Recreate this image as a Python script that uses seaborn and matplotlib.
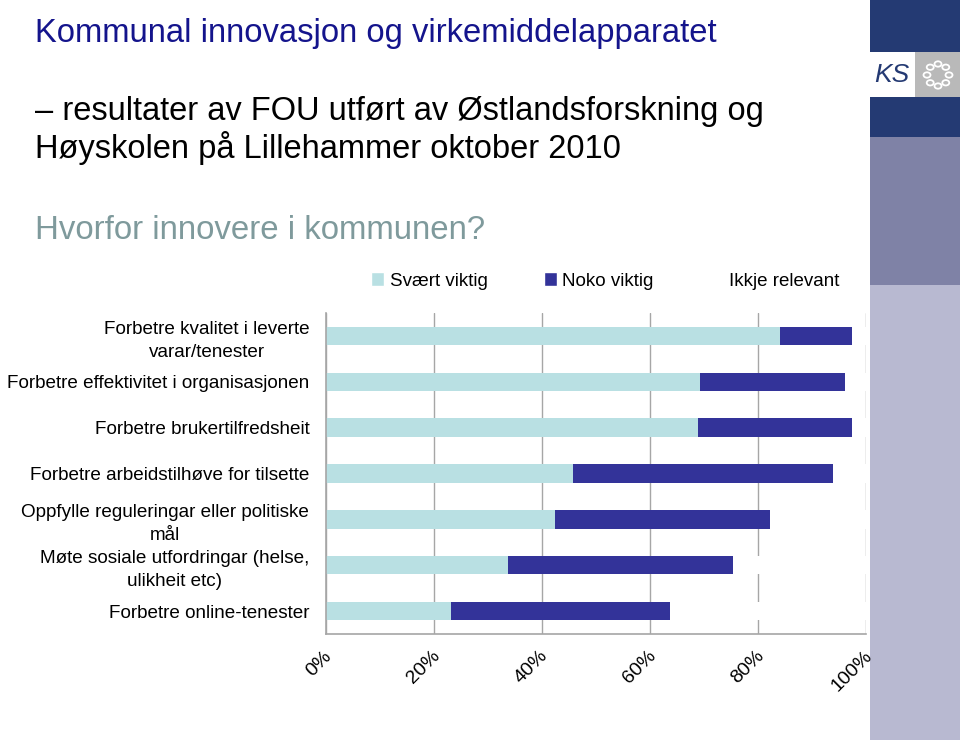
import numpy as np
import pandas as pd
import matplotlib
matplotlib.use("Agg")
import matplotlib.pyplot as plt
import matplotlib.transforms as mtransforms
import seaborn as sns
from matplotlib.patches import Rectangle, Patch

# Données (en %)
kategoriar = [
    "Forbetre kvalitet i leverte\nvarar/tenester",
    "Forbetre effektivitet i organisasjonen",
    "Forbetre brukertilfredsheit",
    "Forbetre arbeidstilhøve for tilsette",
    "Oppfylle reguleringar eller politiske\nmål",
    "Møte sosiale utfordringar (helse,\nulikheit etc)",
    "Forbetre online-tenester",
]
svaert_viktig = [84.0, 69.3, 68.9, 45.7, 42.4, 33.7, 23.1]
noko_viktig = [13.4, 26.8, 28.5, 48.2, 39.8, 41.7, 40.6]
ikkje_relevant = [100 - a - b for a, b in zip(svaert_viktig, noko_viktig)]
serie_namn = ["Svært viktig", "Noko viktig", "Ikkje relevant"]
x_ticks = [0, 20, 40, 60, 80, 100]

df = pd.DataFrame({
    "kategori": kategoriar,
    "sv": svaert_viktig,
    "noko": noko_viktig,
    "ikkje": ikkje_relevant,
})
df["cum_noko"] = df["sv"] + df["noko"]
df["cum_ikkje"] = df["cum_noko"] + df["ikkje"]

sns.set_style("white")
plt.rcParams["font.family"] = ["Liberation Sans", "DejaVu Sans"]
plt.rcParams["text.color"] = "black"
plt.rcParams["xtick.labelcolor"] = "black"
plt.rcParams["ytick.labelcolor"] = "black"

c_light = "#b9e0e3"
c_dark = "#333399"
c_grid = "#a6a6a6"

fig = plt.figure(figsize=(9.6, 7.4), dpi=100)
ax = fig.add_axes([326 / 960, 1 - 634 / 740, 540 / 960, 321 / 740])
ax.set_zorder(2)

# Barres empilées : on dessine les cumuls du plus grand au plus petit
sns.barplot(data=df, x="cum_ikkje", y="kategori", color="white", saturation=1,
            width=0.4, orient="h", linewidth=0, ax=ax)
sns.barplot(data=df, x="cum_noko", y="kategori", color=c_dark, saturation=1,
            width=0.4, orient="h", linewidth=0, ax=ax)
sns.barplot(data=df, x="sv", y="kategori", color=c_light, saturation=1,
            width=0.4, orient="h", linewidth=0, ax=ax)

ax.set_xlim(0, 100)
ax.set_ylim(len(kategoriar) - 0.5, -0.5)
ax.set_xlabel("")
ax.set_ylabel("")
ax.set_axisbelow(True)
ax.xaxis.grid(True, color=c_grid, linewidth=1)
ax.yaxis.grid(False)

ax.set_xticks(x_ticks)
ax.set_xticklabels([f"{t}%" for t in x_ticks], rotation=45, ha="right",
                   va="center", rotation_mode="anchor", fontsize=14)
ax.tick_params(axis="x", length=5, color=c_grid, direction="out", pad=9)

ax.set_yticks(range(len(kategoriar)))
ax.set_yticklabels(kategoriar, fontsize=13.6)
ax.set_yticks(np.arange(-0.5, len(kategoriar), 1), minor=True)
ax.tick_params(axis="y", which="major", length=0, pad=12)
ax.tick_params(axis="y", which="minor", length=5, color=c_grid, direction="out")

for side in ["top", "right"]:
    ax.spines[side].set_visible(False)
for side in ["left", "bottom"]:
    ax.spines[side].set_color(c_grid)
    ax.spines[side].set_linewidth(1.2)

handles = [Patch(facecolor=c_light), Patch(facecolor=c_dark), Patch(facecolor="white")]
fig.legend(handles, serie_namn, loc="center", bbox_to_anchor=(605 / 960, 1 - 281 / 740),
           ncol=3, frameon=False, fontsize=13.5, handlelength=0.7, handleheight=0.7,
           handletextpad=0.3, columnspacing=3.0)

# Titres
fig.text(35 / 960, 1 - 42 / 740, "Kommunal innovasjon og virkemiddelapparatet",
         fontsize=23.6, color="#14148c", va="baseline")
fig.text(35 / 960, 1 - 120 / 740, "– resultater av FOU utført av Østlandsforskning og",
         fontsize=23.5, color="black", va="baseline")
fig.text(35 / 960, 1 - 158 / 740, "Høyskolen på Lillehammer oktober 2010",
         fontsize=23.5, color="black", va="baseline")
fig.text(35 / 960, 1 - 239 / 740, "Hvorfor innovere i kommunen?",
         fontsize=23.8, color="#7f9a9c", va="baseline")

# Bande décorative à droite
def bloc(x0, y0, x1, y1, couleur):
    fig.patches.append(Rectangle((x0 / 960, 1 - y1 / 740), (x1 - x0) / 960, (y1 - y0) / 740,
                                 transform=fig.transFigure, facecolor=couleur,
                                 edgecolor="none", zorder=0))

bloc(870, 0, 960, 52, "#243a73")
bloc(870, 52, 915, 97, "white")
bloc(915, 52, 960, 97, "#b9b9b9")
bloc(870, 97, 960, 137, "#243a73")
bloc(870, 137, 960, 285, "#7f82a6")
bloc(870, 285, 960, 740, "#b8b9d1")
fig.text(892 / 960, 1 - 75 / 740, "KS", fontsize=19, color="#243a73", style="italic",
         ha="center", va="center")
# petite chaîne de maillons en cercle
for ang in np.linspace(0, 2 * np.pi, 9)[:-1]:
    cx = 938 + 11 * np.cos(ang)
    cy = 75 + 11 * np.sin(ang)
    fig.patches.append(plt.Circle((cx / 960, 1 - cy / 740), 3.5 / 960,
                                  transform=fig.transFigure, fill=False,
                                  edgecolor="white", linewidth=1.3))

# Réglages finaux des étiquettes (après un premier rendu)
fig.canvas.draw()
decal = mtransforms.ScaledTranslation(3.5 / 100, 0, fig.dpi_scale_trans)
for lab in ax.get_xticklabels():
    lab.set_transform(lab.get_transform() + decal)
for lab in ax.get_yticklabels():
    lab.set_multialignment("center")
    lab.set_linespacing(1.45)

fig.savefig("out.png", dpi=100)
